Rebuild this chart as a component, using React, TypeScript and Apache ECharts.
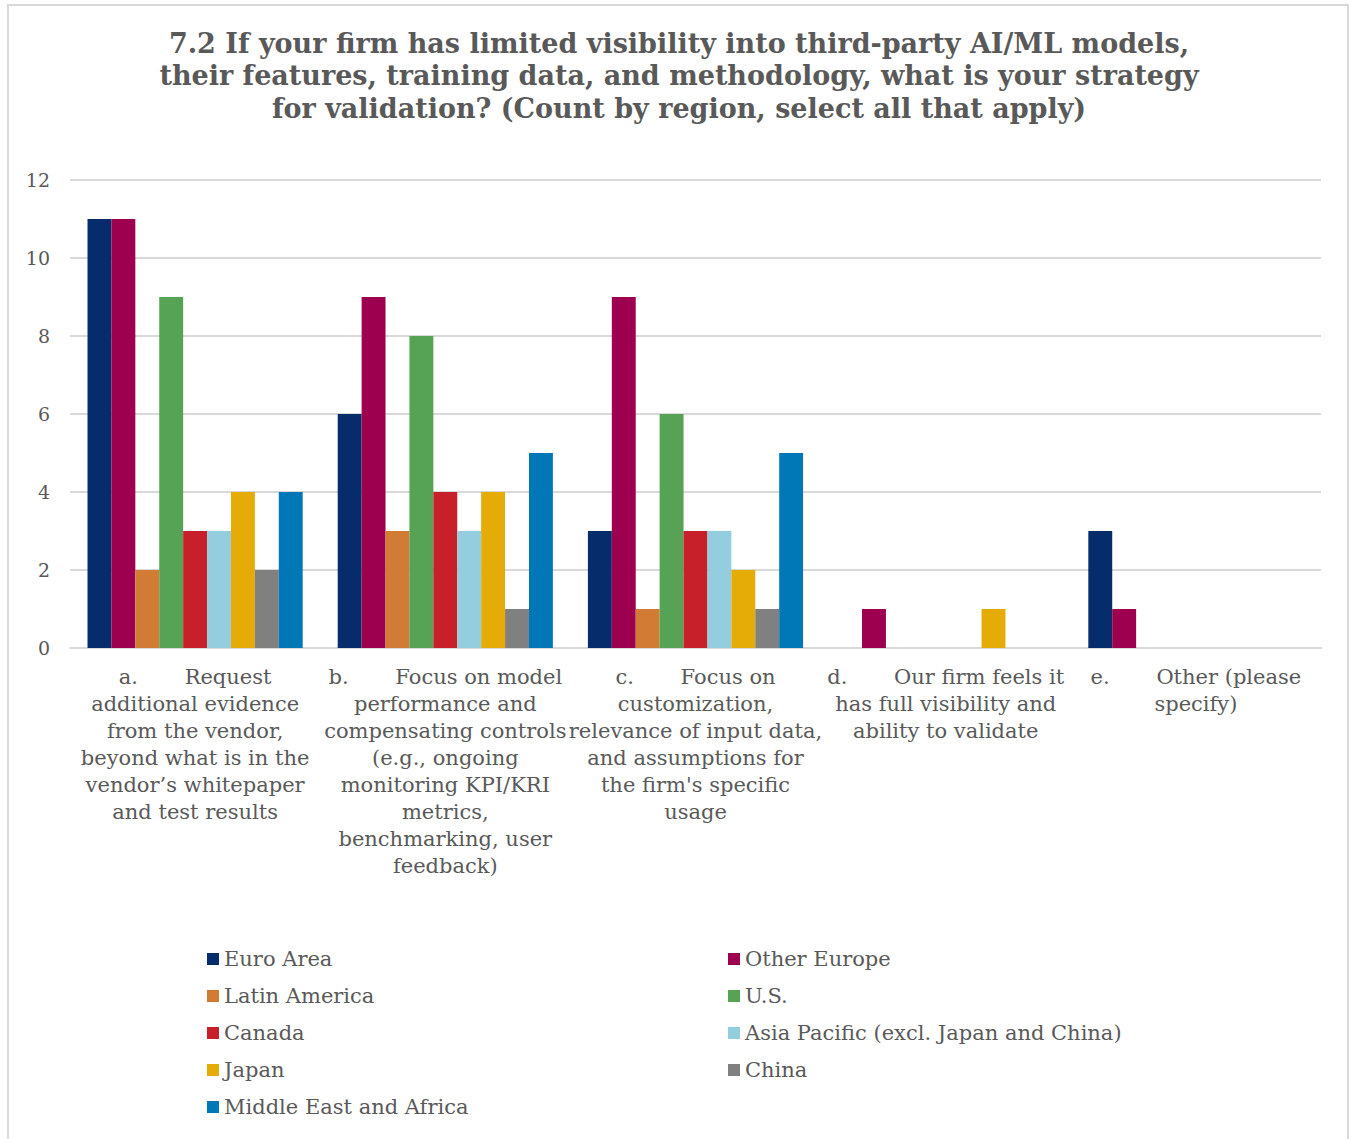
import React, { useEffect, useRef } from "react";
import * as echarts from "echarts";

const titleText =
  "7.2 If your firm has limited visibility into third-party AI/ML models,\ntheir features, training data, and methodology, what is your strategy\nfor validation? (Count by region, select all that apply)";

const categories = [
  "a.       Request\nadditional evidence\nfrom the vendor,\nbeyond what is in the\nvendor\u2019s whitepaper\nand test results",
  "b.       Focus on model\nperformance and\ncompensating controls\n(e.g., ongoing\nmonitoring KPI/KRI\nmetrics,\nbenchmarking, user\nfeedback)",
  "c.       Focus on\ncustomization,\nrelevance of input data,\nand assumptions for\nthe firm's specific\nusage",
  "d.       Our firm feels it\nhas full visibility and\nability to validate",
  "e.       Other (please\nspecify)",
];

const regions = [
  "Euro Area",
  "Other Europe",
  "Latin America",
  "U.S.",
  "Canada",
  "Asia Pacific (excl. Japan and China)",
  "Japan",
  "China",
  "Middle East and Africa",
];

const regionColors = [
  "#062c6b",
  "#9c004e",
  "#d27b34",
  "#56a355",
  "#c8202a",
  "#94cede",
  "#e5ab07",
  "#808080",
  "#0078b8",
];

const euroArea = [11, 6, 3, 0, 3];
const otherEurope = [11, 9, 9, 1, 1];
const latinAmerica = [2, 3, 1, 0, 0];
const us = [9, 8, 6, 0, 0];
const canada = [3, 4, 3, 0, 0];
const asiaPacific = [3, 3, 3, 0, 0];
const japan = [4, 4, 2, 1, 0];
const china = [2, 1, 1, 0, 0];
const middleEastAfrica = [4, 5, 5, 0, 0];

const seriesValues = [
  euroArea,
  otherEurope,
  latinAmerica,
  us,
  canada,
  asiaPacific,
  japan,
  china,
  middleEastAfrica,
];

const yTicks = [0, 2, 4, 6, 8, 10, 12];

const FONT = "DejaVu Serif";
const TEXT = "#595959";

export default function App() {
  const ref = useRef<HTMLDivElement>(null);

  useEffect(() => {
    if (!ref.current) return;
    const chart = echarts.init(ref.current, null, { renderer: "svg" });

    const legendText = { fontFamily: FONT, fontSize: 21, color: TEXT, lineHeight: 22 };
    const legendBase = {
      orient: "vertical" as const,
      itemWidth: 12,
      itemHeight: 12,
      itemGap: 15,
      icon: "rect",
      textStyle: legendText,
      top: 943,
      selectedMode: false,
    };

    chart.setOption({
      animation: false,
      backgroundColor: "#ffffff",
      title: {
        text: titleText,
        left: 674,
        textAlign: "center",
        top: 22,
        textStyle: {
          fontFamily: FONT,
          fontWeight: "bold",
          fontSize: 27,
          lineHeight: 32.5,
          color: TEXT,
        },
      },
      graphic: [
        {
          type: "rect",
          shape: { x: 8, y: 5, width: 1340, height: 1150 },
          style: { fill: "none", stroke: "#d9d9d9", lineWidth: 2 },
          silent: true,
          z: 100,
        },
      ],
      legend: [
        {
          ...legendBase,
          left: 202,
          data: regions.filter((_, i) => i % 2 === 0),
        },
        {
          ...legendBase,
          left: 723,
          data: regions.filter((_, i) => i % 2 === 1),
        },
      ],
      grid: { left: 70, right: 30, top: 180, bottom: 491, containLabel: false },
      xAxis: {
        type: "category",
        data: categories,
        axisLine: { show: true, lineStyle: { color: "#d9d9d9", width: 2 } },
        axisTick: { show: false },
        axisLabel: {
          interval: 0,
          fontFamily: FONT,
          fontSize: 21,
          lineHeight: 27,
          color: TEXT,
          margin: 15,
          align: "center",
        },
      },
      yAxis: {
        type: "value",
        min: yTicks[0],
        max: yTicks[yTicks.length - 1],
        interval: 2,
        axisLine: { show: false },
        axisTick: { show: false },
        splitLine: { lineStyle: { color: "#d9d9d9", width: 2 } },
        axisLabel: {
          fontFamily: FONT,
          fontSize: 19,
          color: TEXT,
          margin: 20,
        },
      },
      series: regions.map((name, i) => ({
        name,
        type: "bar",
        data: seriesValues[i],
        itemStyle: { color: regionColors[i] },
        barGap: "0%",
        barCategoryGap: "14%",
      })),
    });

    return () => chart.dispose();
  }, []);

  return (
    <div
      ref={ref}
      style={{ position: "fixed", left: 0, top: 0, width: 1351, height: 1139 }}
    />
  );
}
